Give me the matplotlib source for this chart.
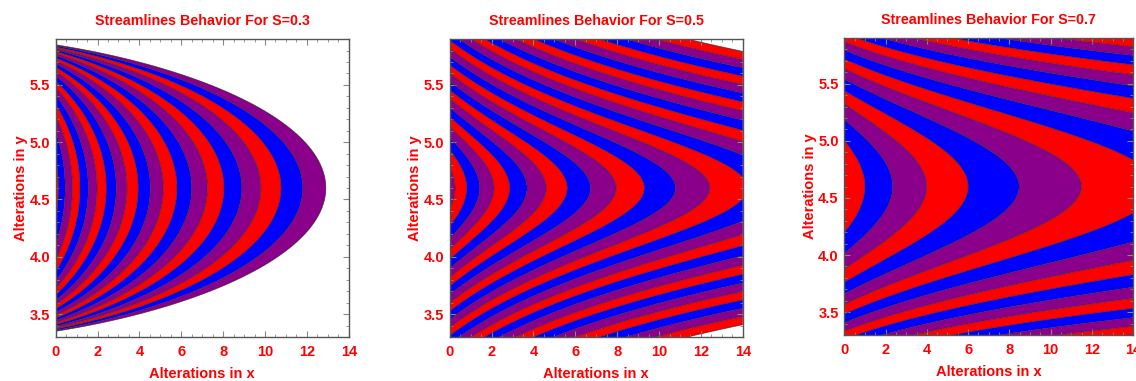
import numpy as np
import matplotlib
matplotlib.use("Agg")
import matplotlib.pyplot as plt
from matplotlib.ticker import MultipleLocator, FormatStrFormatter

plt.rcParams['font.family'] = ['Liberation Sans', 'DejaVu Sans']

# ---- chart data ----
S_values = [0.3, 0.5, 0.7]
x_offset = [4.7, 5.23, 5.0]          # shift of the log-x term
first_vertex = [0.13, 0.25, 1.0]     # x of the innermost contour vertex on the centre line
vertex_ratio = [1.0668, 1.1024, 1.224]  # growth of (x + offset) between successive contour vertices
n_boundaries = [21, 26, 30]          # number of contour lines drawn (above the last: blank)
center_y = [4.6, 4.6, 4.6]
h_kind = ['log', 'lncosh', 'quad']
h_p1 = [0.615, 0.70, 1.12]
h_p2 = [1.33, 1.99, 0.0]
first_color = [0, 2, 0]              # index into band_colors for the innermost band
band_colors = ['#ff0000', '#0000ff', '#8b008b']

x_range = (0, 14)
y_range = (3.3, 5.9)
x_ticks = [0, 2, 4, 6, 8, 10, 12, 14]
y_ticks = [3.5, 4.0, 4.5, 5.0, 5.5]

axes_rects = [
    [0.049, 0.1155, 0.258, 0.782],
    [0.3959, 0.1155, 0.258, 0.782],
    [0.7432, 0.1207, 0.2544, 0.7795],
]


def H(dy, kind, p1, p2):
    if kind == 'log':
        u = np.clip((dy / p2) ** 2, 0, 0.999999)
        return -p1 * np.log(1 - u)
    if kind == 'lncosh':
        return p1 * np.log(np.cosh(p2 * dy))
    return p1 * dy ** 2


fig = plt.figure(figsize=(11.36, 3.81), dpi=100)
xs = np.linspace(x_range[0], x_range[1], 900)
ys = np.linspace(y_range[0], y_range[1], 700)
X, Y = np.meshgrid(xs, ys)

for i, s in enumerate(S_values):
    ax = fig.add_axes(axes_rects[i])
    a = x_offset[i]
    psi = np.log(X + a) + H(Y - center_y[i], h_kind[i], h_p1[i], h_p2[i])
    L0 = np.log(a + first_vertex[i])
    d = np.log(vertex_ratio[i])
    bounds = [L0 + k * d for k in range(n_boundaries[i])]
    levels = [psi.min() - 1.0] + bounds
    cols = [band_colors[(first_color[i] + j) % 3] for j in range(len(levels) - 1)]
    ax.contourf(X, Y, psi, levels=levels, colors=cols, antialiased=True)
    ax.contour(X, Y, psi, levels=bounds, colors='#202020', linewidths=0.55, alpha=0.7)
    ax.set_xlim(*x_range)
    ax.set_ylim(*y_range)
    ax.set_xticks(x_ticks)
    ax.set_yticks(y_ticks)
    ax.xaxis.set_minor_locator(MultipleLocator(0.5))
    ax.yaxis.set_minor_locator(MultipleLocator(0.1))
    ax.yaxis.set_major_formatter(FormatStrFormatter('%.1f'))
    ax.tick_params(which='both', direction='in', top=True, right=True,
                   color='#888888', labelcolor='#ff0000', labelsize=10.5)
    ax.tick_params(which='major', length=4, width=0.8)
    ax.tick_params(axis='x', which='major', pad=6)
    ax.tick_params(axis='y', which='major', pad=4)
    ax.tick_params(which='minor', length=2, width=0.6)
    for lab in ax.get_xticklabels() + ax.get_yticklabels():
        lab.set_fontweight('bold')
    for sp in ax.spines.values():
        sp.set_color('#555555')
        sp.set_linewidth(1.0)
    ax.set_title(f"Streamlines Behavior For S={s}", color='#ff0000',
                 fontweight='bold', fontsize=10.3, pad=10)
    ax.set_xlabel("Alterations in x", color='#ff0000', fontweight='bold', fontsize=10.5, labelpad=5.5)
    ax.set_ylabel("Alterations in y", color='#ff0000', fontweight='bold', fontsize=10.5, labelpad=1)

fig.savefig("out.png", dpi=100)
